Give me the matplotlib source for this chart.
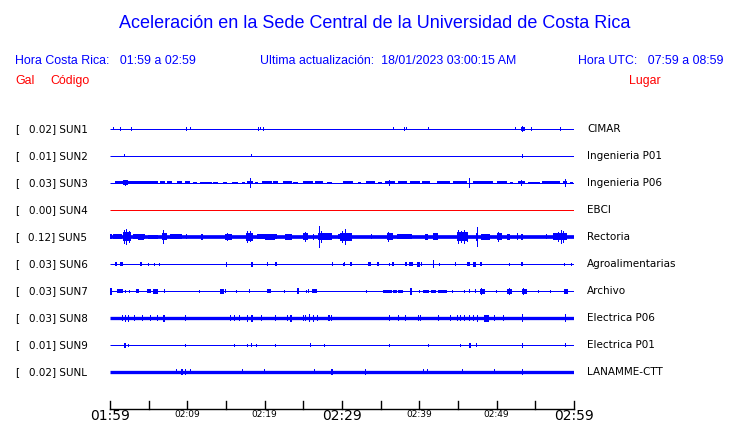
import matplotlib
matplotlib.use("Agg")
import matplotlib.pyplot as plt

# Estaciones (de arriba a abajo)
codigos = ['SUN1', 'SUN2', 'SUN3', 'SUN4', 'SUN5', 'SUN6', 'SUN7', 'SUN8', 'SUN9', 'SUNL']
lugares = ['CIMAR', 'Ingenieria P01', 'Ingenieria P06', 'EBCI', 'Rectoria',
           'Agroalimentarias', 'Archivo', 'Electrica P06', 'Electrica P01', 'LANAMME-CTT']
gal = [0.02, 0.01, 0.03, 0.00, 0.12, 0.03, 0.03, 0.03, 0.01, 0.02]
colores = ['blue', 'blue', 'blue', 'red', 'blue', 'blue', 'blue', 'blue', 'blue', 'blue']
# grosor del ruido de fondo (px)
grosor = [1, 1, 1, 1, 3.7, 1, 1, 3.3, 1, 3.3]

# eventos: (minuto inicio, minuto fin, semi-amplitud px)
sun1 = [(0.43, 0.43, 1.5), (1.33, 1.33, 2), (2.75, 2.75, 2), (9.87, 9.87, 2), (10.39, 10.39, 1.5),
        (19.18, 19.18, 2), (19.44, 19.44, 1.5), (19.83, 19.83, 2), (36.6, 36.6, 1.5), (38.1, 38.1, 2),
        (38.3, 38.3, 1.5), (41.2, 41.2, 1.5), (52.4, 52.4, 1.5), (53.2, 53.6, 2), (53.4, 53.4, 3),
        (54.5, 54.5, 2), (58.2, 58.2, 2)]
sun2 = [(1.85, 1.85, 1.5), (18.3, 18.3, 1.5), (53.3, 53.3, 2)]
sun3 = [(0.65, 6.25, 1.5), (6.47, 7.11, 1.5), (7.33, 7.97, 1.5), (8.62, 9.35, 1.5), (9.70, 10.34, 1.5),
        (10.78, 11.21, 1.2), (11.64, 13.15, 1.3), (13.36, 14.0, 1.3), (14.66, 15.09, 1.3), (15.73, 16.6, 1.3),
        (17.03, 17.46, 1.3), (17.67, 18.53, 1.5), (18.75, 19.18, 1.3), (19.61, 20.9, 1.5), (21.12, 21.77, 1.5),
        (22.41, 23.49, 1.5), (23.71, 24.35, 1.3), (25.0, 26.29, 1.5), (26.51, 27.59, 1.5), (28.02, 28.66, 1.3),
        (30.09, 31.47, 1.5), (32.11, 32.41, 1.3), (33.1, 34.27, 1.5), (34.7, 35.13, 1.3), (35.56, 36.85, 1.5),
        (37.28, 38.36, 1.5), (38.79, 40.09, 1.5), (40.3, 41.38, 1.5), (42.24, 43.97, 1.5), (44.4, 46.12, 1.5),
        (46.9, 49.57, 1.5), (50.0, 51.29, 1.5), (51.72, 52.16, 1.3), (52.8, 53.66, 1.5), (54.1, 55.6, 1.3),
        (55.82, 58.19, 1.5), (58.62, 59.05, 1.5), (59.48, 59.91, 1.3),
        (1.7, 2.3, 2.5), (2.0, 2.0, 3), (18.23, 18.23, 5), (36.12, 36.12, 3), (46.51, 46.51, 5),
        (53.23, 53.23, 3), (58.84, 58.84, 4)]
sun4 = []
sun5 = [(0.0, 0.2, 2.5), (0.4, 1.5, 2.5), (1.72, 2.72, 4.5), (1.9, 1.9, 7), (2.15, 2.15, 8), (2.5, 2.5, 6),
        (2.98, 4.53, 2.5), (3.6, 4.4, 3), (4.96, 6.25, 2.2), (6.68, 7.33, 3.5), (6.98, 6.98, 7),
        (7.76, 9.27, 2.5), (9.92, 9.92, 2.5), (11.77, 12.07, 3), (14.88, 15.73, 3), (15.2, 15.2, 4),
        (17.55, 18.53, 4), (17.8, 17.8, 6), (18.2, 18.2, 5.5), (18.96, 21.55, 2.5), (20.0, 21.3, 3),
        (22.63, 23.49, 3), (25.0, 25.65, 3.5), (25.3, 25.3, 5), (26.29, 26.29, 3), (26.94, 28.66, 3.5),
        (27.15, 27.15, 11), (27.4, 27.4, 6), (29.52, 30.4, 2.5), (29.74, 31.25, 4), (30.1, 30.1, 6),
        (30.39, 30.39, 8), (33.8, 33.8, 2.5), (35.78, 36.64, 3.5), (36.0, 36.0, 5), (37.07, 39.0, 2.5),
        (40.74, 41.17, 3), (41.8, 42.46, 3.5), (44.84, 46.35, 4.5), (45.0, 45.0, 7), (45.5, 45.5, 6),
        (45.9, 45.9, 7), (46.2, 46.2, 5), (47.33, 47.63, 4), (47.5, 47.5, 10), (48.0, 49.1, 3),
        (50.0, 50.65, 3.5), (50.3, 50.3, 5), (51.3, 51.72, 3), (52.6, 52.8, 3.5), (53.2, 53.4, 3),
        (56.47, 56.47, 2.5), (57.33, 59.05, 3.5), (58.0, 58.0, 5), (58.4, 58.4, 7), (58.7, 58.7, 6)]
sun6 = [(0.65, 0.91, 2), (1.29, 1.72, 2), (3.88, 4.1, 2), (4.96, 4.96, 1.5), (5.73, 5.73, 1.5),
        (6.38, 6.38, 1.5), (15.09, 15.09, 2.5), (18.23, 18.53, 2.5), (20.35, 20.35, 2), (21.34, 21.55, 2),
        (28.8, 28.8, 2), (30.26, 30.26, 2), (30.17, 30.43, 1.5), (31.03, 31.29, 2), (33.4, 33.7, 2),
        (34.57, 34.78, 2), (36.12, 36.12, 1.5), (36.42, 36.72, 2), (38.1, 38.36, 2), (38.71, 39.22, 2),
        (39.74, 40.09, 2.5), (40.3, 40.3, 2), (41.81, 41.81, 4), (42.6, 42.6, 1.5), (44.6, 44.8, 2),
        (46.2, 46.6, 2), (46.9, 47.33, 2.5), (47.85, 48.07, 2), (51.64, 51.64, 1.5), (53.1, 53.4, 2),
        (58.8, 58.8, 1.5), (59.7, 59.7, 1.5)]
sun7 = [(0.0, 0.3, 3.5), (0.86, 1.72, 2), (2.03, 2.03, 1.5), (2.46, 2.46, 1.5), (3.32, 3.75, 2),
        (4.74, 5.26, 2), (5.6, 6.16, 2.5), (7.02, 7.02, 2), (11.55, 11.55, 1.5), (14.22, 14.74, 2.5),
        (14.96, 14.96, 2), (16.3, 16.3, 1.5), (18.1, 18.1, 2), (20.26, 20.82, 2), (22.54, 22.54, 1.5),
        (24.14, 24.48, 3), (25.35, 25.35, 1.5), (25.65, 25.65, 2), (26.16, 26.72, 2),
        (33.19, 33.19, 1.5), (35.35, 36.42, 1.5), (36.6, 37.1, 1.5), (37.3, 37.9, 1.5), (38.79, 39.05, 3.5),
        (40.0, 40.0, 1.5), (40.52, 41.3, 1.5), (41.5, 42.2, 1.5), (42.4, 43.53, 1.5),
        (44.31, 44.31, 1.5), (45.9, 45.9, 1.5), (46.46, 46.46, 2), (47.2, 47.2, 2), (47.85, 48.45, 2.5),
        (48.1, 48.1, 3.5), (50.0, 50.0, 1.5), (51.29, 51.94, 2.5), (51.6, 51.6, 3.5), (53.23, 53.88, 2.5),
        (53.5, 53.5, 3.5), (55.4, 55.4, 1.5), (57.0, 57.0, 1.5), (58.75, 59.27, 2.5)]
sun8 = [(1.6, 1.6, 3), (1.94, 1.94, 3.5), (2.37, 2.37, 3.5), (3.23, 3.23, 3), (4.18, 4.18, 3),
        (5.3, 5.3, 3), (6.12, 6.12, 3), (6.9, 7.15, 3.5), (9.74, 9.74, 3), (15.52, 15.52, 3),
        (16.08, 16.08, 3), (16.72, 16.72, 3), (17.7, 17.9, 3.5), (18.2, 18.45, 3.5), (19.61, 19.61, 3),
        (21.38, 21.38, 3), (22.93, 22.93, 3), (23.3, 23.5, 3.5), (25.04, 25.04, 3), (25.3, 25.3, 3),
        (25.7, 25.9, 4), (26.2, 26.4, 3.5), (26.81, 26.81, 3), (28.2, 28.4, 3), (28.66, 28.66, 3),
        (36.08, 36.08, 3), (37.28, 37.28, 3), (38.19, 38.19, 3), (39.87, 39.87, 3), (40.09, 40.09, 3),
        (42.45, 42.45, 3), (44.05, 44.05, 3), (44.91, 44.91, 3), (45.26, 45.26, 3), (45.82, 45.82, 3),
        (46.4, 46.55, 3), (46.98, 46.98, 3), (47.45, 47.65, 3.5), (48.36, 48.96, 3.5), (49.78, 49.78, 3),
        (50.86, 50.86, 3), (53.3, 53.45, 4), (58.84, 58.84, 4)]
sun9 = [(1.81, 2.07, 2.5), (2.37, 2.37, 1.5), (9.74, 9.74, 1.5), (16.08, 16.08, 1.5), (17.8, 17.8, 1.5),
        (18.28, 18.28, 2), (18.97, 18.97, 1.5), (21.38, 21.38, 1.5), (25.9, 25.9, 2), (27.72, 27.72, 1.5),
        (36.12, 36.12, 1.5), (41.17, 41.17, 1.5), (45.26, 45.26, 1.5), (46.46, 46.7, 2.5),
        (47.41, 47.41, 2), (53.36, 53.36, 2.5), (58.84, 58.84, 2)]
sunl = [(8.58, 8.58, 2.5), (9.18, 9.44, 3), (9.74, 9.74, 3), (10.47, 10.47, 2.5), (17.11, 17.11, 2.5),
        (19.96, 19.96, 2.5), (26.42, 26.42, 2.5), (28.62, 28.8, 3), (33.06, 33.06, 3), (40.52, 40.52, 2.5),
        (41.04, 41.04, 2.5), (45.6, 45.6, 2.5), (49.7, 49.7, 2.5), (53.32, 53.32, 3)]
eventos = [sun1, sun2, sun3, sun4, sun5, sun6, sun7, sun8, sun9, sunl]

# eje de tiempo (minutos desde 01:59)
ticks_min = list(range(0, 61, 5))
etiquetas_grandes = {0: '01:59', 30: '02:29', 60: '02:59'}
etiquetas_chicas = {10: '02:09', 20: '02:19', 40: '02:39', 50: '02:49'}

W, H = 740, 423
fig = plt.figure(figsize=(W / 100, H / 100), dpi=100)
fig.patch.set_facecolor('white')

# ejes: x de 110 a 574 px, y de 102 a 409 px
ax = fig.add_axes([110 / W, (H - 409) / H, 464 / W, (409 - 102) / H])
ax.set_xlim(0, 60)
sep = 27.0  # px entre trazas
ax.set_ylim((409 - 129) / sep, (102 - 129) / sep)
ax.axis('off')

px_min = 60 / 464.0
for i, ev in enumerate(eventos):
    c = colores[i]
    ax.hlines(i, 0, 60, colors=c, linewidth=grosor[i] * 0.72, capstyle='butt')
    for t0, t1, a in ev:
        ancho = max(t1 - t0, px_min)
        ax.bar(t0 if t1 > t0 else t0 - px_min / 2, 2 * a / sep, width=ancho, bottom=i - a / sep,
               align='edge', color=c, linewidth=0)

# capa para textos en pixeles
fig_ax = fig.add_axes([0, 0, 1, 1], facecolor='none')
fig_ax.set_xlim(0, W)
fig_ax.set_ylim(H, 0)
fig_ax.axis('off')

# eje inferior
y_eje = (409 - 129) / sep
ax.plot([0, 60], [y_eje, y_eje], color='black', lw=1, clip_on=False)
for m in ticks_min:
    ax.plot([m, m], [y_eje, (401 - 129) / sep], color='black', lw=1, clip_on=False)
for m, s in etiquetas_grandes.items():
    ax.text(m, (415.5 - 129) / sep, s, ha='center', va='center', fontsize=10,
            family='DejaVu Sans', clip_on=False)
for m, s in etiquetas_chicas.items():
    ax.text(m, (414 - 129) / sep, s, ha='center', va='center', fontsize=6.5,
            family='DejaVu Sans', clip_on=False)

# etiquetas de estaciones
for i in range(len(codigos)):
    ax.text(-95 / 464 * 60, i, '[', ha='left', va='center', fontsize=7.5, family='DejaVu Sans')
    ax.text(-52 / 464 * 60, i, f'{gal[i]:.2f}] {codigos[i]}', ha='center', va='center', fontsize=7.5,
            family='DejaVu Sans')
    ax.text(477 / 464 * 60, i, lugares[i], ha='left', va='center', fontsize=7.5, family='DejaVu Sans')

# encabezado
f = 'Liberation Sans'
fig_ax.text(375, 23, 'Aceleración en la Sede Central de la Universidad de Costa Rica', ha='center',
            va='center', color='blue', fontsize=13, family=f)
fig_ax.text(15, 61, 'Hora Costa Rica:   01:59 a 02:59', ha='left', va='center', color='blue',
            fontsize=8.9, family=f)
fig_ax.text(260, 61, 'Ultima actualización:  18/01/2023 03:00:15 AM', ha='left', va='center',
            color='blue', fontsize=8.9, family=f)
fig_ax.text(724, 61, 'Hora UTC:   07:59 a 08:59', ha='right', va='center', color='blue',
            fontsize=8.9, family=f)
fig_ax.text(15, 81, 'Gal', ha='left', va='center', color='red', fontsize=8.9, family=f)
fig_ax.text(50, 81, 'Código', ha='left', va='center', color='red', fontsize=8.9, family=f)
fig_ax.text(661, 81, 'Lugar', ha='right', va='center', color='red', fontsize=8.9, family=f)

fig.savefig('out.png', dpi=100)
